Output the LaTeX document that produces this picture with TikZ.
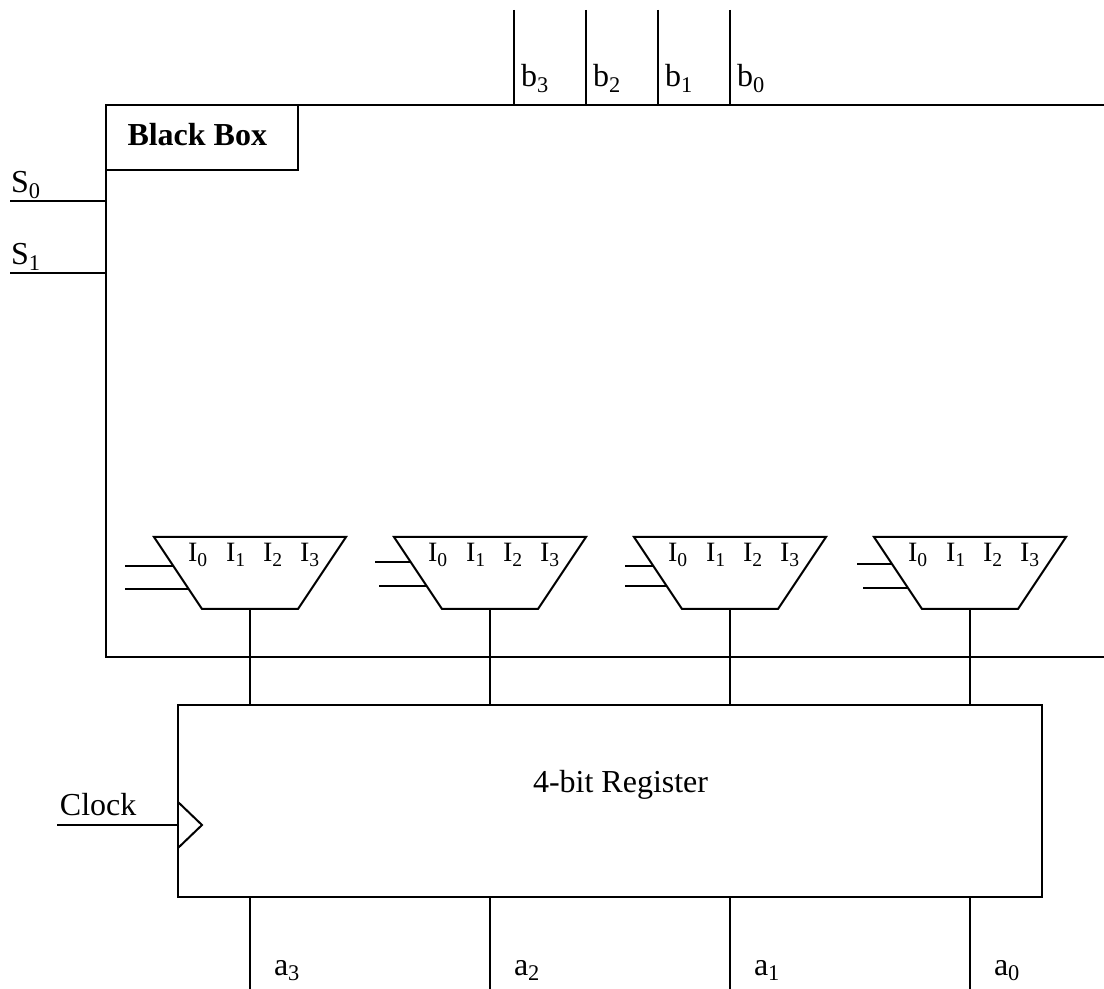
\documentclass[tikz,border=0pt]{standalone}
\usepackage{fontspec}
\setmainfont{Liberation Serif}
\usetikzlibrary{arrows.meta}
\newcommand{\lowidx}[1]{\textsubscript{#1}}
\tikzset{
  lbl/.style={anchor=base west, inner sep=0pt, font=\fontsize{16}{18}\selectfont},
  muxlbl/.style={anchor=base west, inner sep=0pt, font=\fontsize{14}{16}\selectfont},
}

\begin{document}
\begin{tikzpicture}[x=0.5pt, y=-0.5pt, line width=1pt, >=Stealth]
  \useasboundingbox (0,0) rectangle (1104,989);

  % black box: open on the right, with its title tab
  \draw (1104,105) -- (106,105) -- (106,657) -- (1104,657);
  \draw (106,105) rectangle (298,170);
  \node[lbl] (bbtitle) at (126.5,146) {\textbf{Black Box}};

  % select lines
  \coordinate (s0in) at (10,201);
  \coordinate (s1in) at (10,273);
  \draw (s0in) -- (106,201);
  \draw (s1in) -- (106,273);
  \node[lbl] (s0lbl) at (10,193) {S\lowidx{0}};
  \node[lbl] (s1lbl) at (10,265) {S\lowidx{1}};

  % outputs through the top of the box
  \foreach \n/\x in {3/514, 2/586, 1/658, 0/730}{
    \draw (\x,10) -- (\x,105);
    \node[lbl] (b\n) at (\x+6,87) {b\lowidx{\n}};
  }

  % register
  \node[draw, anchor=north west, inner sep=0pt, outer sep=0pt, minimum width=432pt, minimum height=96pt] (reg) at (178,705) {};
  \node[lbl] (reglbl) at (532,792) {4-bit Register};

  % clock input and its wedge
  \coordinate (clkin) at (57,825);
  \draw (clkin) -- (clkin -| reg.west);
  \draw (178,802) -- (202,825) -- (178,848);
  \node[lbl] (clklbl) at (59,815) {Clock};

  % muxes, their selects, and the wires down through the register
  \foreach \n/\c/\sa/\ya/\sb/\yb in {3/250/125/566.5/125/589, 2/490/375/562/379/586.5, 1/730/625/566/625/586.5, 0/970/857/564/863/588.5}{
    \coordinate (mux\n) at (\c,609);
    \draw (\c-96,537) -- (\c+96,537) -- (\c+48,609) -- (\c-48,609) -- cycle;
    \draw (mux\n) -- (mux\n |- reg.north);
    \draw (mux\n |- reg.south) -- (\c,989);
    \pgfmathsetmacro{\ea}{\c-96+(\ya-537)*2/3}
    \pgfmathsetmacro{\eb}{\c-96+(\yb-537)*2/3}
    \draw (\sa,\ya) -- (\ea,\ya);
    \draw (\sb,\yb) -- (\eb,\yb);
    \node[muxlbl] (i0m\n) at (\c-63,562) {I\lowidx{0}};
    \node[muxlbl] (i1m\n) at (\c-25,562) {I\lowidx{1}};
    \node[muxlbl] (i2m\n) at (\c+12,562) {I\lowidx{2}};
    \node[muxlbl] (i3m\n) at (\c+49,562) {I\lowidx{3}};
    \node[lbl] (a\n) at (\c+23,975) {a\lowidx{\n}};
  }
\end{tikzpicture}
\end{document}
